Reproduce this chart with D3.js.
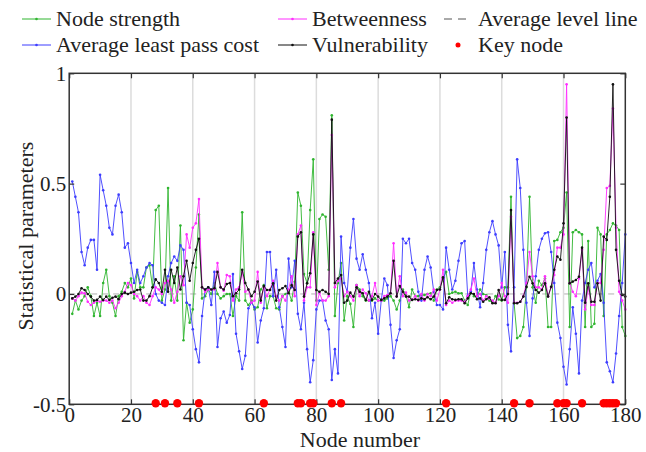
<!DOCTYPE html>
<html>
<head>
<meta charset="utf-8">
<script src="https://cdn.jsdelivr.net/npm/d3@7"></script>
<style>
body { margin: 0; background: #fff; }
text { font-family: "Liberation Serif", "Times New Roman", serif; fill: #222; }
</style>
</head>
<body>
<div id="wrapper"></div>
<script>
// node numbers along the x axis
const nodes = d3.range(1, 181);

const nodeStrength = [
 -0.09, -0.03, -0.07, -0.03, -0.01, 0.03, -0.01, -0.10, -0.04, -0.10,
 0.05, 0.11, -0.01, -0.04, -0.10, -0.01, 0.01, 0.05, 0.03, 0.07,
 -0.02, 0.10, 0.03, 0.03, 0.12, 0.13, 0.03, 0.38, 0.40, -0.03,
 0.02, 0.48, -0.03, 0.08, -0.03, 0.31, -0.21, -0.04, -0.13, -0.07,
 0.12, 0.36, -0.02, -0.01, 0.02, 0.0, 0.05, 0.0, -0.02, -0.01,
 0.0, 0.0, -0.10, -0.01, -0.03, 0.37, -0.03, -0.05, -0.03, -0.07,
 -0.06, 0.02, 0.04, -0.065, -0.01, -0.01, -0.065, -0.07, -0.01, 0.0,
 0.01, -0.03, 0.055, 0.46, 0.40, 0.09, 0.05, 0.38, 0.61, -0.03,
 0.34, 0.36, 0.35, 0.11, 0.81, -0.10, 0.05, 0.14, -0.12, -0.01,
 -0.045, -0.15, 0.04, 0.02, -0.01, -0.03, -0.03, -0.03, -0.02, -0.03,
 -0.03, -0.03, -0.02, -0.01, -0.03, -0.07, -0.03, 0.02, -0.005, -0.06,
 0.02, -0.01, -0.01, -0.005, -0.005, 0.0, 0.003, -0.03, 0.02, 0.03,
 0.07, 0.10, 0.0, 0.006, 0.01, 0.003, 0.003, -0.03, -0.05, 0.01,
 -0.01, -0.01, 0.02, 0.0, -0.005, -0.03, -0.04, -0.01, -0.025, -0.03,
 0.03, 0.03, 0.44, -0.04, -0.20, -0.19, -0.15, 0.03, 0.44, 0.03,
 -0.04, 0.06, 0.04, 0.07, -0.15, -0.15, 0.24, 0.245, 0.28, 0.30,
 0.46, -0.15, 0.28, 0.29, 0.28, 0.27, -0.15, 0.24, -0.15, -0.135,
 0.30, 0.27, -0.10, 0.27, 0.29, 0.32, 0.31, 0.29, -0.15, -0.19
];

const leastPassCost = [
 0.51, 0.44, 0.37, 0.19, 0.13, 0.21, 0.245, 0.245, 0.11, 0.54,
 0.47, 0.40, 0.30, 0.27, 0.40, 0.45, 0.37, 0.21, 0.23, 0.14,
 0.05, 0.11, 0.05, 0.08, 0.12, 0.14, 0.13, 0.0, -0.03, -0.04,
 -0.05, 0.08, 0.14, 0.17, 0.15, 0.22, 0.20, -0.04, -0.05, -0.16,
 -0.25, -0.31, -0.10, 0.02, 0.03, -0.05, 0.10, -0.24, -0.11, -0.08,
 -0.13, -0.095, 0.09, -0.18, -0.26, -0.34, -0.28, -0.065, -0.04, -0.06,
 -0.22, -0.12, -0.065, 0.19, 0.19, -0.01, 0.11, -0.06, -0.15, -0.24,
 0.16, 0.03, 0.15, -0.09, -0.16, -0.04, -0.25, -0.40, -0.30, -0.07,
 -0.03, -0.03, -0.12, -0.16, -0.39, -0.25, -0.36, 0.26, 0.05, 0.01,
 0.21, 0.34, 0.16, 0.11, 0.18, 0.11, 0.05, -0.11, -0.04, -0.18,
 -0.03, 0.07, 0.04, -0.14, -0.29, -0.21, -0.16, 0.25, 0.23, 0.25,
 0.14, 0.11, 0.01, -0.03, 0.11, 0.17, 0.12, 0.01, -0.05, -0.05,
 -0.07, 0.21, 0.11, 0.02, 0.06, 0.15, 0.23, 0.24, -0.01, 0.01,
 0.14, 0.02, -0.06, 0.05, 0.20, 0.28, 0.33, 0.27, 0.22, 0.03,
 0.19, -0.14, -0.26, 0.03, 0.61, 0.48, 0.20, -0.04, -0.19, -0.02,
 0.08, 0.20, 0.25, 0.275, 0.28, 0.19, 0.05, -0.13, -0.20, -0.33,
 -0.41, -0.25, -0.06, -0.18, -0.36, -0.03, 0.05, 0.11, 0.14, 0.03,
 0.06, 0.09, -0.04, -0.31, -0.35, -0.40, -0.27, -0.10, 0.05, 0.27
];

const betweenness = [
 -0.02, -0.03, -0.01, 0.006, 0.003, -0.035, -0.05, -0.04, -0.03, -0.035,
 -0.03, -0.03, -0.04, -0.03, -0.065, -0.04, -0.01, 0.01, 0.05, 0.04,
 0.0, -0.01, -0.03, -0.01, -0.04, -0.05, -0.01, 0.03, 0.02, 0.0,
 0.05, 0.06, 0.02, -0.04, 0.01, 0.08, 0.04, 0.27, 0.21, 0.30,
 0.32, 0.43, 0.03, 0.01, 0.02, 0.02, 0.02, 0.14, 0.03, 0.015,
 0.086, 0.08, -0.03, 0.02, 0.03, 0.10, 0.01, 0.02, -0.04, -0.03,
 0.10, -0.04, 0.03, -0.01, 0.02, 0.06, -0.01, -0.03, -0.01, -0.03,
 0.02, 0.08, -0.01, 0.27, 0.31, -0.03, 0.03, 0.03, 0.28, -0.05,
 0.003, -0.03, -0.03, -0.01, 0.72, 0.03, 0.06, 0.07, -0.01, 0.01,
 -0.01, -0.03, 0.04, -0.01, 0.02, 0.003, -0.03, -0.01, 0.05, -0.03,
 -0.03, -0.01, -0.005, 0.003, 0.23, -0.01, 0.08, -0.01, 0.006, -0.03,
 -0.025, -0.01, -0.03, 0.0, -0.03, 0.0, -0.01, 0.02, -0.03, 0.02,
 0.11, -0.05, -0.03, -0.04, -0.03, -0.03, -0.03, -0.035, -0.01, 0.02,
 0.07, -0.01, 0.0, -0.03, -0.01, -0.02, -0.03, -0.04, -0.01, 0.05,
 -0.01, -0.04, 0.35, -0.04, -0.04, -0.035, -0.01, 0.05, 0.19, 0.08,
 0.03, 0.03, 0.02, 0.08, -0.01, 0.03, 0.086, 0.21, 0.21, 0.27,
 0.95, 0.05, 0.01, -0.01, 0.07, 0.20, -0.07, 0.03, -0.05, -0.05,
 0.05, 0.05, 0.20, 0.48, 0.49, 0.84, 0.30, 0.01, -0.03, -0.07
];

const vulnerability = [
 -0.02, -0.012, 0.0, 0.026, 0.018, 0.0, -0.012, -0.03, -0.027, -0.012,
 -0.027, -0.012, -0.027, -0.017, -0.012, -0.024, 0.0, 0.006, 0.0, 0.006,
 0.01, 0.018, 0.02, -0.03, -0.03, -0.01, 0.03, 0.066, 0.05, 0.01,
 0.11, 0.01, 0.11, 0.05, 0.12, 0.02, 0.08, 0.15, 0.06, 0.14,
 0.20, 0.25, 0.03, 0.02, 0.03, 0.02, 0.026, 0.10, 0.03, 0.02,
 0.045, 0.05, -0.01, 0.003, 0.02, 0.11, 0.05, 0.02, -0.01, 0.01,
 0.056, -0.03, 0.036, 0.018, 0.018, 0.048, -0.03, 0.018, 0.026, 0.036,
 0.003, 0.04, 0.018, 0.26, 0.28, -0.012, 0.048, 0.094, 0.27, 0.018,
 0.01, 0.018, 0.01, 0.0, 0.79, 0.05, 0.07, 0.086, -0.04, -0.03,
 0.006, -0.012, 0.03, 0.01, 0.003, -0.027, 0.01, -0.027, 0.0, -0.012,
 -0.027, -0.02, -0.012, 0.003, 0.15, -0.012, 0.036, 0.01, -0.012, -0.012,
 -0.027, -0.024, -0.027, -0.02, -0.024, -0.015, -0.024, -0.012, 0.018, 0.02,
 0.075, -0.042, -0.015, -0.024, -0.027, -0.024, -0.024, -0.042, -0.02, 0.003,
 0.0, -0.024, -0.02, -0.035, -0.024, -0.015, -0.042, -0.042, 0.018, -0.027,
 -0.027, 0.0, 0.38, -0.042, -0.042, -0.035, -0.012, 0.033, 0.078, 0.048,
 0.018, 0.006, 0.018, 0.048, -0.012, 0.033, 0.11, 0.17, 0.155, 0.32,
 0.80, 0.048, 0.056, 0.063, 0.078, 0.21, -0.04, 0.048, -0.035, -0.035,
 0.048, -0.03, 0.26, 0.245, 0.44, 0.95, 0.20, 0.06, -0.005, -0.012
];

const keyNodes = [28, 31, 35, 42, 63, 74, 75, 78, 79, 85, 88, 122, 144, 149, 158, 160, 161, 166, 173, 174, 175, 176, 177];
const averageLevel = 0;

const xTicks = [0, 20, 40, 60, 80, 100, 120, 140, 160, 180];
const yTicks = [-0.5, 0, 0.5, 1];
const gridTicks = [20, 40, 60, 80, 100, 120, 140, 160];

const series = [
	{name: "Node strength", values: nodeStrength, color: "#2fb52f"},
	{name: "Average least pass cost", values: leastPassCost, color: "#3d3dff"},
	{name: "Betweenness", values: betweenness, color: "#ff2eff"},
	{name: "Vulnerability", values: vulnerability, color: "#111111"}
];

const width = 646, height = 452;
const svg = d3.select("#wrapper").append("svg")
	.attr("width", width)
	.attr("height", height);

const xScale = d3.scaleLinear().domain([0, 180]).range([69.2, 625.3]);
const yScale = d3.scaleLinear().domain([-0.5, 1]).range([404.3, 73.3]);

const plotLeft = xScale(0), plotRight = xScale(180), plotTop = yScale(1), plotBottom = yScale(-0.5);

// grid
svg.append("g").selectAll("line")
	.data(gridTicks)
	.join("line")
	.attr("x1", d => xScale(d)).attr("x2", d => xScale(d))
	.attr("y1", plotTop).attr("y2", plotBottom)
	.attr("stroke", "#dcdcdc")
	.attr("stroke-width", 1.5);

// average level line
svg.append("line")
	.attr("x1", plotLeft).attr("x2", plotRight)
	.attr("y1", yScale(averageLevel)).attr("y2", yScale(averageLevel))
	.attr("stroke", "#b0b0b0")
	.attr("stroke-width", 1)
	.attr("stroke-dasharray", "6,5");

const lineGen = d3.line()
	.x((d, i) => xScale(nodes[i]))
	.y(d => yScale(d));

series.forEach(s => {
	svg.append("path")
		.attr("d", lineGen(s.values))
		.attr("fill", "none")
		.attr("stroke", s.color)
		.attr("stroke-width", 1)
		.attr("opacity", 0.9);
	svg.append("g").selectAll("circle")
		.data(s.values)
		.join("circle")
		.attr("cx", (d, i) => xScale(nodes[i]))
		.attr("cy", d => yScale(d))
		.attr("r", 1.3)
		.attr("fill", s.color);
});

// axes (ticks pointing inward, box on all sides)
const styleAxis = g => {
	g.select(".domain").remove();
	g.selectAll(".tick line").attr("stroke", "#333").attr("stroke-width", 1.2);
	g.selectAll(".tick text").style("font-size", "21px").attr("fill", "#222");
};

svg.append("g")
	.attr("transform", `translate(0,${plotBottom})`)
	.call(d3.axisBottom(xScale).tickValues(xTicks).tickSizeInner(-5).tickSizeOuter(0).tickPadding(3).tickFormat(d3.format("d")))
	.call(styleAxis);

svg.append("g")
	.attr("transform", `translate(0,${plotTop})`)
	.call(d3.axisTop(xScale).tickValues(xTicks).tickSizeInner(-5).tickSizeOuter(0).tickFormat(""))
	.call(styleAxis);

svg.append("g")
	.attr("transform", `translate(${plotLeft},0)`)
	.call(d3.axisLeft(yScale).tickValues(yTicks).tickSizeInner(-5).tickSizeOuter(0).tickPadding(3).tickFormat(d => String(d)))
	.call(styleAxis);

svg.append("g")
	.attr("transform", `translate(${plotRight},0)`)
	.call(d3.axisRight(yScale).tickValues(yTicks).tickSizeInner(-5).tickSizeOuter(0).tickFormat(""))
	.call(styleAxis);

svg.append("rect")
	.attr("x", plotLeft).attr("y", plotTop)
	.attr("width", plotRight - plotLeft).attr("height", plotBottom - plotTop)
	.attr("fill", "none")
	.attr("stroke", "#333")
	.attr("stroke-width", 1.5);

// key nodes on the bottom axis
svg.append("g").selectAll("circle")
	.data(keyNodes)
	.join("circle")
	.attr("cx", d => xScale(d))
	.attr("cy", yScale(-0.5) - 1)
	.attr("r", 4.2)
	.attr("fill", "#ff0000");

// axis titles
svg.append("text")
	.attr("x", 360)
	.attr("y", 447)
	.attr("text-anchor", "middle")
	.style("font-size", "22px")
	.text("Node number");

svg.append("text")
	.attr("transform", "translate(33,236) rotate(-90)")
	.attr("text-anchor", "middle")
	.style("font-size", "22px")
	.text("Statistical parameters");

// legend
const legendItems = [
	{name: series[0].name, color: series[0].color, kind: "line", col: 0, row: 0},
	{name: series[1].name, color: series[1].color, kind: "line", col: 0, row: 1},
	{name: series[2].name, color: series[2].color, kind: "line", col: 1, row: 0},
	{name: series[3].name, color: series[3].color, kind: "line", col: 1, row: 1},
	{name: "Average level line", color: "#555", kind: "dash", col: 2, row: 0},
	{name: "Key node", color: "#ff0000", kind: "dot", col: 2, row: 1}
];
const colX = [22, 278, 444];
const rowY = [19, 45];

const legend = svg.append("g");
legendItems.forEach(d => {
	const x0 = colX[d.col], y0 = rowY[d.row];
	if (d.kind === "line") {
		legend.append("line")
			.attr("x1", x0).attr("x2", x0 + 29)
			.attr("y1", y0).attr("y2", y0)
			.attr("stroke", d.color).attr("stroke-width", 1);
		legend.append("circle")
			.attr("cx", x0 + 14.5).attr("cy", y0).attr("r", 1.3)
			.attr("fill", d.color);
	} else if (d.kind === "dash") {
		legend.append("line")
			.attr("x1", x0).attr("x2", x0 + 24)
			.attr("y1", y0).attr("y2", y0)
			.attr("stroke", d.color).attr("stroke-width", 1)
			.attr("stroke-dasharray", "8,6");
	} else {
		legend.append("circle")
			.attr("cx", x0 + 14).attr("cy", y0).attr("r", 2.5)
			.attr("fill", d.color);
	}
	legend.append("text")
		.attr("x", x0 + 34)
		.attr("y", y0 + 7)
		.style("font-size", "22px")
		.text(d.name);
});
</script>
</body>
</html>
